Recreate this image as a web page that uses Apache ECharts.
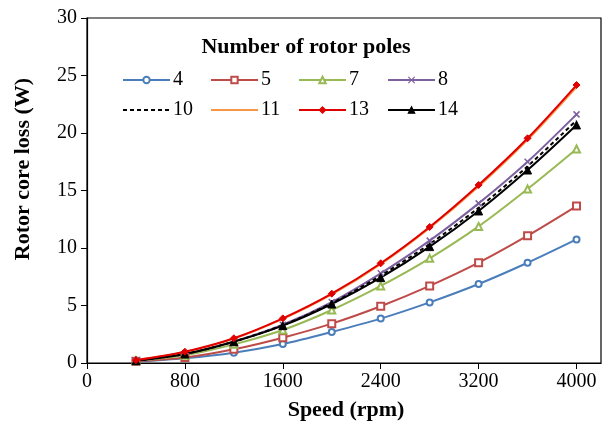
<!DOCTYPE html>
<html>
<head>
<meta charset="utf-8">
<script src="https://cdn.jsdelivr.net/npm/echarts@6/dist/echarts.min.js"></script>
<style>
  html, body { margin: 0; padding: 0; background: #fff; }
  #chart { width: 608px; height: 430px; }
</style>
</head>
<body>
<div id="chart"></div>
<script>
// Rotor core loss vs speed for different rotor pole counts
const speeds = [400, 800, 1200, 1600, 2000, 2400, 2800, 3200, 3600, 4000];
const xTicks = [0, 800, 1600, 2400, 3200, 4000];

const poles4  = [0.12, 0.42, 0.90, 1.65, 2.70, 3.86, 5.27, 6.87, 8.72, 10.75];
const poles5  = [0.15, 0.47, 1.19, 2.20, 3.42, 4.93, 6.70, 8.72, 11.07, 13.65];
const poles7  = [0.19, 0.67, 1.62, 2.87, 4.61, 6.70, 9.10, 11.88, 15.13, 18.61];
const poles8  = [0.21, 0.80, 1.88, 3.33, 5.30, 7.80, 10.64, 13.88, 17.50, 21.62];
const poles10 = [0.20, 0.79, 1.86, 3.29, 5.20, 7.60, 10.35, 13.50, 17.10, 21.10];
const poles11 = [0.24, 0.96, 2.12, 3.83, 5.96, 8.60, 11.75, 15.35, 19.40, 24.00];
const poles13 = [0.25, 0.98, 2.15, 3.88, 6.03, 8.67, 11.83, 15.48, 19.54, 24.17];
const poles14 = [0.20, 0.78, 1.85, 3.25, 5.13, 7.42, 10.12, 13.22, 16.78, 20.70];

const FONT = 'Liberation Serif';
const crossPath = 'path://M0,0L10,10M0,10L10,0';

function pairs(vals) { return speeds.map((s, i) => [s, vals[i]]); }

const seriesDefs = [
  { name: '4',  data: poles4,  color: '#4A7EBB', symbol: 'emptyCircle',   size: 6 },
  { name: '5',  data: poles5,  color: '#BE4B48', symbol: 'emptyRect',     size: 7 },
  { name: '7',  data: poles7,  color: '#98B954', symbol: 'emptyTriangle', size: 7 },
  { name: '8',  data: poles8,  color: '#7D60A0', symbol: crossPath,       size: 6 },
  { name: '10', data: poles10, color: '#000000', symbol: 'none', dashed: true },
  { name: '11', data: poles11, color: '#F79646', symbol: 'none' },
  { name: '13', data: poles13, color: '#E00000', symbol: 'diamond',       size: 7 },
  { name: '14', data: poles14, color: '#000000', symbol: 'triangle',      size: 8 }
];

const series = seriesDefs.map(d => ({
  name: d.name,
  type: 'line',
  smooth: 0.3,
  data: pairs(d.data),
  symbol: d.symbol,
  symbolSize: d.size || 0,
  showSymbol: d.symbol !== 'none',
  lineStyle: { color: d.color, width: 2, type: d.dashed ? [4, 3] : 'solid' },
  itemStyle: {
    color: d.symbol === crossPath ? 'none' : d.color,
    borderColor: d.color,
    borderWidth: d.symbol === crossPath ? 1.5 : 1
  },
  z: d.name === '13' ? 5 : 3
}));

// one legend box per entry so the columns line up on a fixed grid
const colX = [122, 210, 298, 387];
const rowY = [70, 100];
const legends = seriesDefs.map((d, i) => ({
  data: [d.name],
  left: colX[i % 4],
  top: rowY[Math.floor(i / 4)],
  itemWidth: 47,
  itemHeight: 8,
  itemGap: 0,
  padding: 0,
  itemStyle: d.symbol === 'none' ? { opacity: 0 } : { borderWidth: 1.2 },
  lineStyle: { width: 2 },
  textStyle: { fontFamily: FONT, fontSize: 20, color: '#000', padding: [0, 0, 0, -2] }
}));

const option = {
  animation: false,
  backgroundColor: '#fff',
  grid: {
    left: 87, top: 18, right: 7, bottom: 67,
    show: true, borderColor: '#000', borderWidth: 1.2, backgroundColor: 'transparent'
  },
  legend: legends,
  xAxis: {
    type: 'value',
    min: 0, max: 4200,
    splitLine: { show: false },
    axisLine: { onZero: false, lineStyle: { color: '#000', width: 1.2 } },
    axisTick: { customValues: xTicks, length: 6, inside: false, lineStyle: { color: '#000' } },
    axisLabel: { customValues: xTicks, formatter: v => String(v),
                 fontFamily: FONT, fontSize: 20, color: '#000', margin: 9 }
  },
  yAxis: {
    type: 'value',
    min: 0, max: 30, interval: 5,
    splitLine: { show: false },
    axisLine: { show: true, lineStyle: { color: '#000', width: 1.2 } },
    axisTick: { show: true, length: 6, lineStyle: { color: '#000' } },
    axisLabel: { fontFamily: FONT, fontSize: 20, color: '#000', margin: 10 }
  },
  graphic: [
    {
      type: 'text', x: 306, y: 47,
      style: { text: 'Number of rotor poles', font: 'bold 22px ' + FONT, fill: '#000',
               align: 'center', verticalAlign: 'middle' }
    },
    {
      type: 'text', x: 346, y: 410,
      style: { text: 'Speed (rpm)', font: 'bold 22px ' + FONT, fill: '#000',
               align: 'center', verticalAlign: 'middle' }
    },
    {
      type: 'text', x: 23, y: 169, rotation: Math.PI / 2,
      style: { text: 'Rotor core loss (W)', font: 'bold 22px ' + FONT, fill: '#000',
               align: 'center', verticalAlign: 'middle' }
    }
  ],
  series: series
};

const chart = echarts.init(document.getElementById('chart'), null, { renderer: 'canvas' });
chart.setOption(option);
</script>
</body>
</html>
